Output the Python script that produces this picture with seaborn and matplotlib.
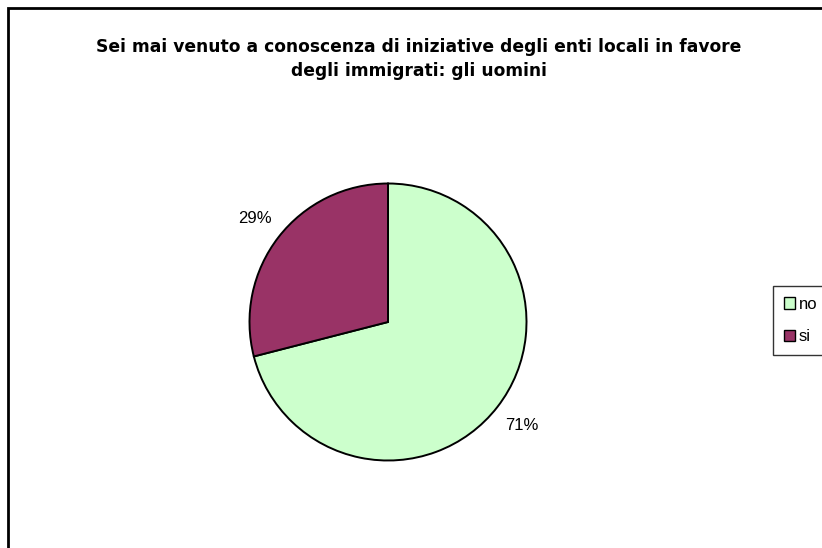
import matplotlib
matplotlib.use("Agg")
import matplotlib.pyplot as plt
import seaborn as sns
from matplotlib.patches import Rectangle, Patch

sns.set_theme(style="white")
plt.rcParams["font.family"] = ["Liberation Sans", "DejaVu Sans"]
plt.rcParams["text.color"] = "black"

categories = ["no", "si"]
values = [71, 29]
colors = ["#CCFFCC", "#993366"]
title = ("Sei mai venuto a conoscenza di iniziative degli enti locali in favore\n"
         "degli immigrati: gli uomini")

W, H = 822, 548
fig = plt.figure(figsize=(W / 100, H / 100), dpi=100)
fig.patch.set_facecolor("white")

# chart-area frame (runs off the right and bottom edges)
fig.add_artist(Rectangle((8 / W, -0.05), 1.1, 1 - 8 / H + 0.05,
                         transform=fig.transFigure, fill=False,
                         edgecolor="black", linewidth=2))

# pie axes: centre (388, 322) px, radius 138.5 px
cx, cy, r = 388, 322, 138.5
ax = fig.add_axes([(cx - r) / W, (H - cy - r) / H, 2 * r / W, 2 * r / H])
wedges, _, autotexts = ax.pie(
    values, colors=colors, startangle=90, counterclock=False,
    autopct=lambda p: f"{p:.0f}%", pctdistance=1.22, radius=1,
    wedgeprops=dict(edgecolor="black", linewidth=1.4),
    textprops=dict(fontsize=12, color="black"),
)
ax.set_xlim(-1, 1)
ax.set_ylim(-1, 1)
ax.set_aspect("equal")
ax.axis("off")

fig.text(419 / W, 1 - 59 / H, title, ha="center", va="center",
         fontsize=12.3, fontweight="bold", linespacing=1.4,
         family=["DejaVu Sans"], color="black")

handles = [Patch(facecolor=c, edgecolor="black", linewidth=1) for c in colors]
leg = fig.legend(handles, categories, loc="upper left",
                 bbox_to_anchor=(773 / W, 1 - 286 / H),
                 frameon=True, fancybox=False, fontsize=12,
                 handlelength=0.65, handleheight=0.65, handletextpad=0.25,
                 labelspacing=1.05, borderpad=0.65, borderaxespad=0)
leg.get_frame().set_edgecolor("black")
leg.get_frame().set_linewidth(1)
for t in leg.get_texts():
    t.set_color("black")

fig.savefig("out.png", dpi=100)
